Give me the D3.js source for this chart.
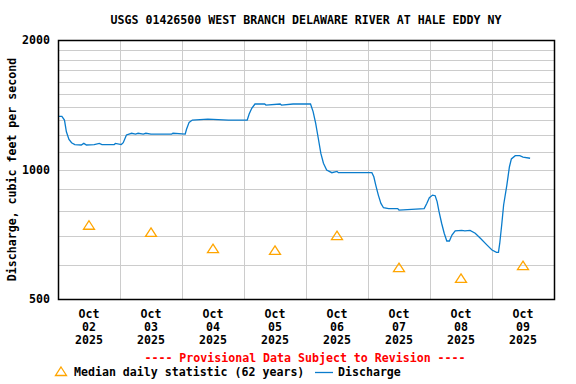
<!DOCTYPE html>
<html>
<head>
<meta charset="utf-8">
<script src="https://cdn.jsdelivr.net/npm/d3@7"></script>
<style>
  body { margin: 0; background: #fff; }
  svg text { font-family: "DejaVu Sans Mono", monospace; font-weight: bold; font-size: 11.6px; }
</style>
</head>
<body>
<svg width="576" height="384"></svg>
<script>
const width = 576;
const height = 384;

// median daily statistic (62 years), one per day at noon
const medianDays = ["2025-10-02", "2025-10-03", "2025-10-04", "2025-10-05", "2025-10-06", "2025-10-07", "2025-10-08", "2025-10-09"];
const medianCfs = [740, 712, 653, 647, 700, 590, 557, 596];

// discharge, instantaneous values
const dischargeTimes = [
  "2025-10-02 00:00", "2025-10-02 01:30", "2025-10-02 02:30", "2025-10-02 03:15", "2025-10-02 04:15",
  "2025-10-02 05:15", "2025-10-02 06:30", "2025-10-02 09:00", "2025-10-02 10:00", "2025-10-02 11:00",
  "2025-10-02 14:00", "2025-10-02 16:00", "2025-10-02 17:00", "2025-10-02 21:45", "2025-10-02 22:15",
  "2025-10-03 00:30", "2025-10-03 01:15", "2025-10-03 02:30", "2025-10-03 04:30", "2025-10-03 06:00",
  "2025-10-03 07:00", "2025-10-03 09:00", "2025-10-03 10:00", "2025-10-03 12:00", "2025-10-03 20:00",
  "2025-10-03 20:30", "2025-10-04 01:15", "2025-10-04 01:45", "2025-10-04 02:45", "2025-10-04 04:00",
  "2025-10-04 10:00", "2025-10-04 18:00", "2025-10-05 01:15", "2025-10-05 02:00", "2025-10-05 03:00",
  "2025-10-05 04:15", "2025-10-05 08:00", "2025-10-05 08:30", "2025-10-05 14:00", "2025-10-05 14:30",
  "2025-10-05 19:00", "2025-10-05 22:00", "2025-10-06 01:45", "2025-10-06 02:45", "2025-10-06 03:45",
  "2025-10-06 04:45", "2025-10-06 05:45", "2025-10-06 06:45", "2025-10-06 08:00", "2025-10-06 10:00",
  "2025-10-06 12:00", "2025-10-06 12:30", "2025-10-06 16:00", "2025-10-07 01:30", "2025-10-07 02:15",
  "2025-10-07 03:00", "2025-10-07 04:00", "2025-10-07 05:00", "2025-10-07 06:00", "2025-10-07 08:00",
  "2025-10-07 11:30", "2025-10-07 12:00", "2025-10-07 21:45", "2025-10-07 22:45", "2025-10-07 23:45",
  "2025-10-08 01:00", "2025-10-08 02:00", "2025-10-08 02:45", "2025-10-08 03:30", "2025-10-08 04:30",
  "2025-10-08 05:30", "2025-10-08 06:30", "2025-10-08 07:30", "2025-10-08 08:30", "2025-10-08 09:45",
  "2025-10-08 12:15", "2025-10-08 13:30", "2025-10-08 15:30", "2025-10-08 17:30", "2025-10-08 19:30",
  "2025-10-08 22:00", "2025-10-09 00:00", "2025-10-09 01:45", "2025-10-09 02:30", "2025-10-09 03:00",
  "2025-10-09 03:45", "2025-10-09 04:30", "2025-10-09 05:45", "2025-10-09 06:45", "2025-10-09 07:30",
  "2025-10-09 09:00", "2025-10-09 10:45", "2025-10-09 12:00", "2025-10-09 14:45"
];
const dischargeCfs = [
  1329, 1329, 1303, 1224, 1175,
  1154, 1143, 1140, 1150, 1140,
  1143, 1150, 1143, 1143, 1150,
  1143, 1154, 1203, 1214, 1209,
  1214, 1209, 1214, 1209, 1209,
  1214, 1209, 1240, 1287, 1303,
  1310, 1303, 1303, 1346, 1388,
  1420, 1420, 1412, 1420, 1412,
  1420, 1420, 1420, 1363, 1280,
  1182, 1090, 1034, 997, 983,
  990, 983, 983, 983, 962,
  920, 872, 834, 815, 811,
  811, 805, 811, 834, 860,
  872, 869, 842, 798, 750,
  711, 682, 682, 704, 720,
  722, 720, 722, 711, 692,
  668, 650, 642, 642, 674,
  743, 827, 920, 1015, 1058,
  1077, 1077, 1069, 1062
];

const yTicks = [500, 1000, 2000];
const yGrid = d3.range(500, 2001, 100);

const parseDay = d3.timeParse("%Y-%m-%d");
const parseTime = d3.timeParse("%Y-%m-%d %H:%M");

const margin = { top: 40, right: 22, bottom: 85, left: 58 };

const svg = d3.select("svg");

const x = d3.scaleTime()
    .domain([parseDay("2025-10-02"), parseDay("2025-10-10")])
    .range([margin.left, width - margin.right]);

const y = d3.scaleLog()
    .domain([500, 2000])
    .range([height - margin.bottom, margin.top]);

// grid
svg.append("g")
    .selectAll("line")
    .data(yGrid)
    .enter()
    .append("line")
    .attr("x1", margin.left)
    .attr("x2", width - margin.right)
    .attr("y1", d => Math.round(y(d)) + 0.5)
    .attr("y2", d => Math.round(y(d)) + 0.5)
    .attr("stroke", "#cccccc")
    .attr("stroke-width", 1);

const midnights = d3.timeDay.range(parseDay("2025-10-03"), parseDay("2025-10-10"));
svg.append("g")
    .selectAll("line")
    .data(midnights)
    .enter()
    .append("line")
    .attr("x1", d => Math.round(x(d)) + 0.5)
    .attr("x2", d => Math.round(x(d)) + 0.5)
    .attr("y1", margin.top)
    .attr("y2", height - margin.bottom)
    .attr("stroke", "#cccccc")
    .attr("stroke-width", 1);

// discharge line
const discharge = dischargeTimes.map((t, i) => ({ t: parseTime(t), v: dischargeCfs[i] }));
svg.append("path")
    .datum(discharge)
    .attr("fill", "none")
    .attr("stroke", "#0a7ccc")
    .attr("stroke-width", 1.3)
    .attr("d", d3.line().x(d => x(d.t)).y(d => y(d.v)));

// median triangles
const tri = "M0,-5L5.5,3.5L-5.5,3.5Z";
svg.append("g")
    .selectAll("path")
    .data(medianDays)
    .enter()
    .append("path")
    .attr("transform", (d, i) => `translate(${x(d3.timeHour.offset(parseDay(d), 12))},${y(medianCfs[i])})`)
    .attr("d", tri)
    .attr("fill", "none")
    .attr("stroke", "#ffa500")
    .attr("stroke-width", 1.3);

// frame
svg.append("rect")
    .attr("x", margin.left + 0.5)
    .attr("y", margin.top + 0.5)
    .attr("width", width - margin.left - margin.right)
    .attr("height", height - margin.top - margin.bottom)
    .attr("fill", "none")
    .attr("stroke", "#000")
    .attr("stroke-width", 1.5);

// y labels
svg.append("g")
    .selectAll("text")
    .data(yTicks)
    .enter()
    .append("text")
    .attr("x", margin.left - 8)
    .attr("y", d => y(d))
    .attr("dy", "0.35em")
    .attr("text-anchor", "end")
    .text(d => d);

// x labels
const labelFmt = [d3.timeFormat("%b"), d3.timeFormat("%d"), d3.timeFormat("%Y")];
const xl = svg.append("g")
    .selectAll("text")
    .data(medianDays)
    .enter()
    .append("text")
    .attr("text-anchor", "middle")
    .attr("transform", d => `translate(${x(d3.timeHour.offset(parseDay(d), 12))},318)`);
labelFmt.forEach((f, k) => {
  xl.append("tspan")
    .attr("x", 0)
    .attr("y", k * 13)
    .text(d => f(parseDay(d)));
});

// title
svg.append("text")
    .attr("x", 306)
    .attr("y", 24)
    .attr("text-anchor", "middle")
    .text("USGS 01426500 WEST BRANCH DELAWARE RIVER AT HALE EDDY NY");

// y axis title
svg.append("text")
    .attr("transform", `translate(16,${(margin.top + height - margin.bottom) / 2}) rotate(-90)`)
    .attr("text-anchor", "middle")
    .text("Discharge, cubic feet per second");

// provisional note
svg.append("text")
    .attr("x", 305)
    .attr("y", 362)
    .attr("text-anchor", "middle")
    .attr("fill", "#ff0000")
    .text("---- Provisional Data Subject to Revision ----");

// legend
const legend = svg.append("g").attr("transform", "translate(0,372)");
legend.append("path")
    .attr("transform", "translate(61,0)")
    .attr("d", tri)
    .attr("fill", "none")
    .attr("stroke", "#ffa500")
    .attr("stroke-width", 1.3);
legend.append("text")
    .attr("x", 74)
    .attr("y", 0)
    .attr("dy", "0.35em")
    .text("Median daily statistic (62 years)");
legend.append("line")
    .attr("x1", 315)
    .attr("x2", 333)
    .attr("y1", 0.5)
    .attr("y2", 0.5)
    .attr("stroke", "#0a7ccc")
    .attr("stroke-width", 1.3);
legend.append("text")
    .attr("x", 338)
    .attr("y", 0)
    .attr("dy", "0.35em")
    .text("Discharge");
</script>
</body>
</html>
